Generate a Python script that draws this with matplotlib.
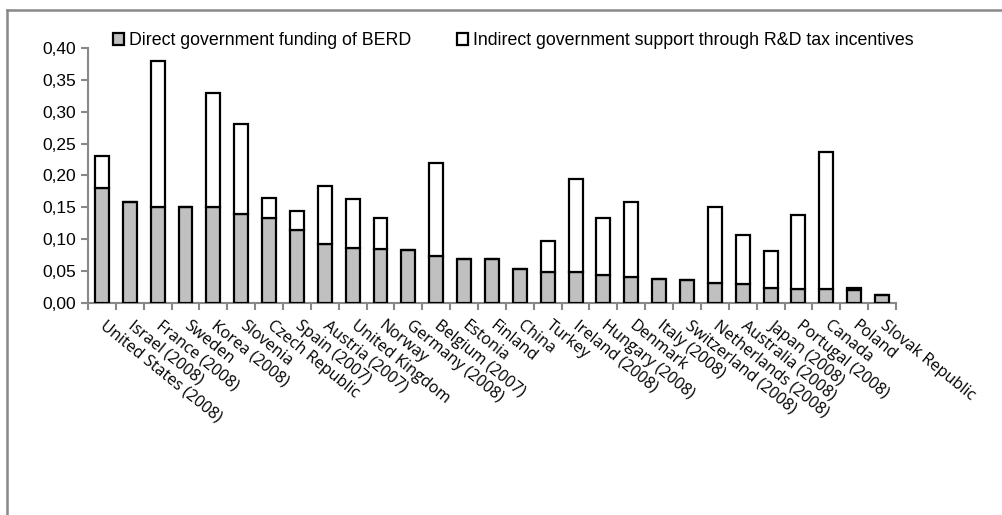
import numpy as np
import matplotlib.pyplot as plt
from matplotlib.patches import Patch
from matplotlib.lines import Line2D

countries = ["United States (2008)", "Israel (2008)", "France (2008)", "Sweden",
             "Korea (2008)", "Slovenia", "Czech Republic", "Spain (2007)",
             "Austria (2007)", "United Kingdom", "Norway", "Germany (2008)",
             "Belgium (2007)", "Estonia", "Finland", "China", "Turkey",
             "Ireland (2008)", "Hungary (2008)", "Denmark", "Italy (2008)",
             "Switzerland (2008)", "Netherlands (2008)", "Australia (2008)",
             "Japan (2008)", "Portugal (2008)", "Canada", "Poland", "Slovak Republic"]

direct = [0.180, 0.158, 0.150, 0.150, 0.150, 0.140, 0.134, 0.115, 0.092, 0.087,
          0.085, 0.083, 0.074, 0.069, 0.069, 0.054, 0.049, 0.049, 0.044, 0.040,
          0.038, 0.036, 0.031, 0.029, 0.024, 0.022, 0.022, 0.021, 0.012]
total = [0.230, 0.158, 0.380, 0.150, 0.330, 0.280, 0.165, 0.144, 0.183, 0.163,
         0.133, 0.083, 0.219, 0.069, 0.069, 0.054, 0.097, 0.194, 0.133, 0.158,
         0.038, 0.036, 0.151, 0.106, 0.081, 0.138, 0.237, 0.023, 0.012]

indirect = np.array(total) - np.array(direct)
x = np.arange(len(countries))

fig = plt.figure(figsize=(10.03, 5.15), dpi=100)
ax = fig.add_axes([0.0877, 0.4117, 0.8056, 0.4951])

grey = "#c0c0c0"
ax.bar(x, direct, width=0.5, color=grey, edgecolor="black", linewidth=1.6, zorder=3)
ax.bar(x, indirect, bottom=direct, width=0.5, color="white", edgecolor="black",
       linewidth=1.6, zorder=3)

ax.set_xlim(-0.5, len(countries) - 0.5)
ax.set_ylim(0, 0.40)
yt = np.arange(0, 0.401, 0.05)
ax.set_yticks(yt)
ax.set_yticklabels([("%.2f" % v).replace(".", ",") for v in yt],
                   fontfamily="Liberation Sans", fontsize=12.5)

ax.set_xticks(np.arange(-0.5, len(countries), 1.0))
ax.set_xticklabels([])
ax.set_xticks(x, minor=True)
ax.set_xticklabels(countries, minor=True, rotation=-39, ha="left", va="center",
                   rotation_mode="anchor", fontfamily="Open Sans", fontsize=11.6)
ax.tick_params(axis="x", which="minor", length=0, pad=15)
ax.tick_params(axis="both", which="major", direction="out", length=5, color="#888888",
               width=1.5)

for s in ["top", "right"]:
    ax.spines[s].set_visible(False)
for s in ["left", "bottom"]:
    ax.spines[s].set_color("#888888")
    ax.spines[s].set_linewidth(1.5)

handles = [Patch(facecolor=grey, edgecolor="black", linewidth=1.6),
           Patch(facecolor="white", edgecolor="black", linewidth=1.6)]
labels = ["Direct government funding of BERD",
          "Indirect government support through R&D tax incentives"]
fig.legend(handles, labels, ncol=2, loc="center left", bbox_to_anchor=(0.097, 0.921),
           frameon=False, handlelength=0.62, handleheight=0.62, handletextpad=0.25,
           columnspacing=2.6, prop={"family": "Liberation Sans", "size": 12.8})

# chart area border (left and top edges visible)
fig.add_artist(Line2D([0.007, 0.007], [0, 0.981], color="#888888", linewidth=1.8))
fig.add_artist(Line2D([0.007, 1.0], [0.981, 0.981], color="#888888", linewidth=1.8))

fig.savefig("out.png", dpi=100)
